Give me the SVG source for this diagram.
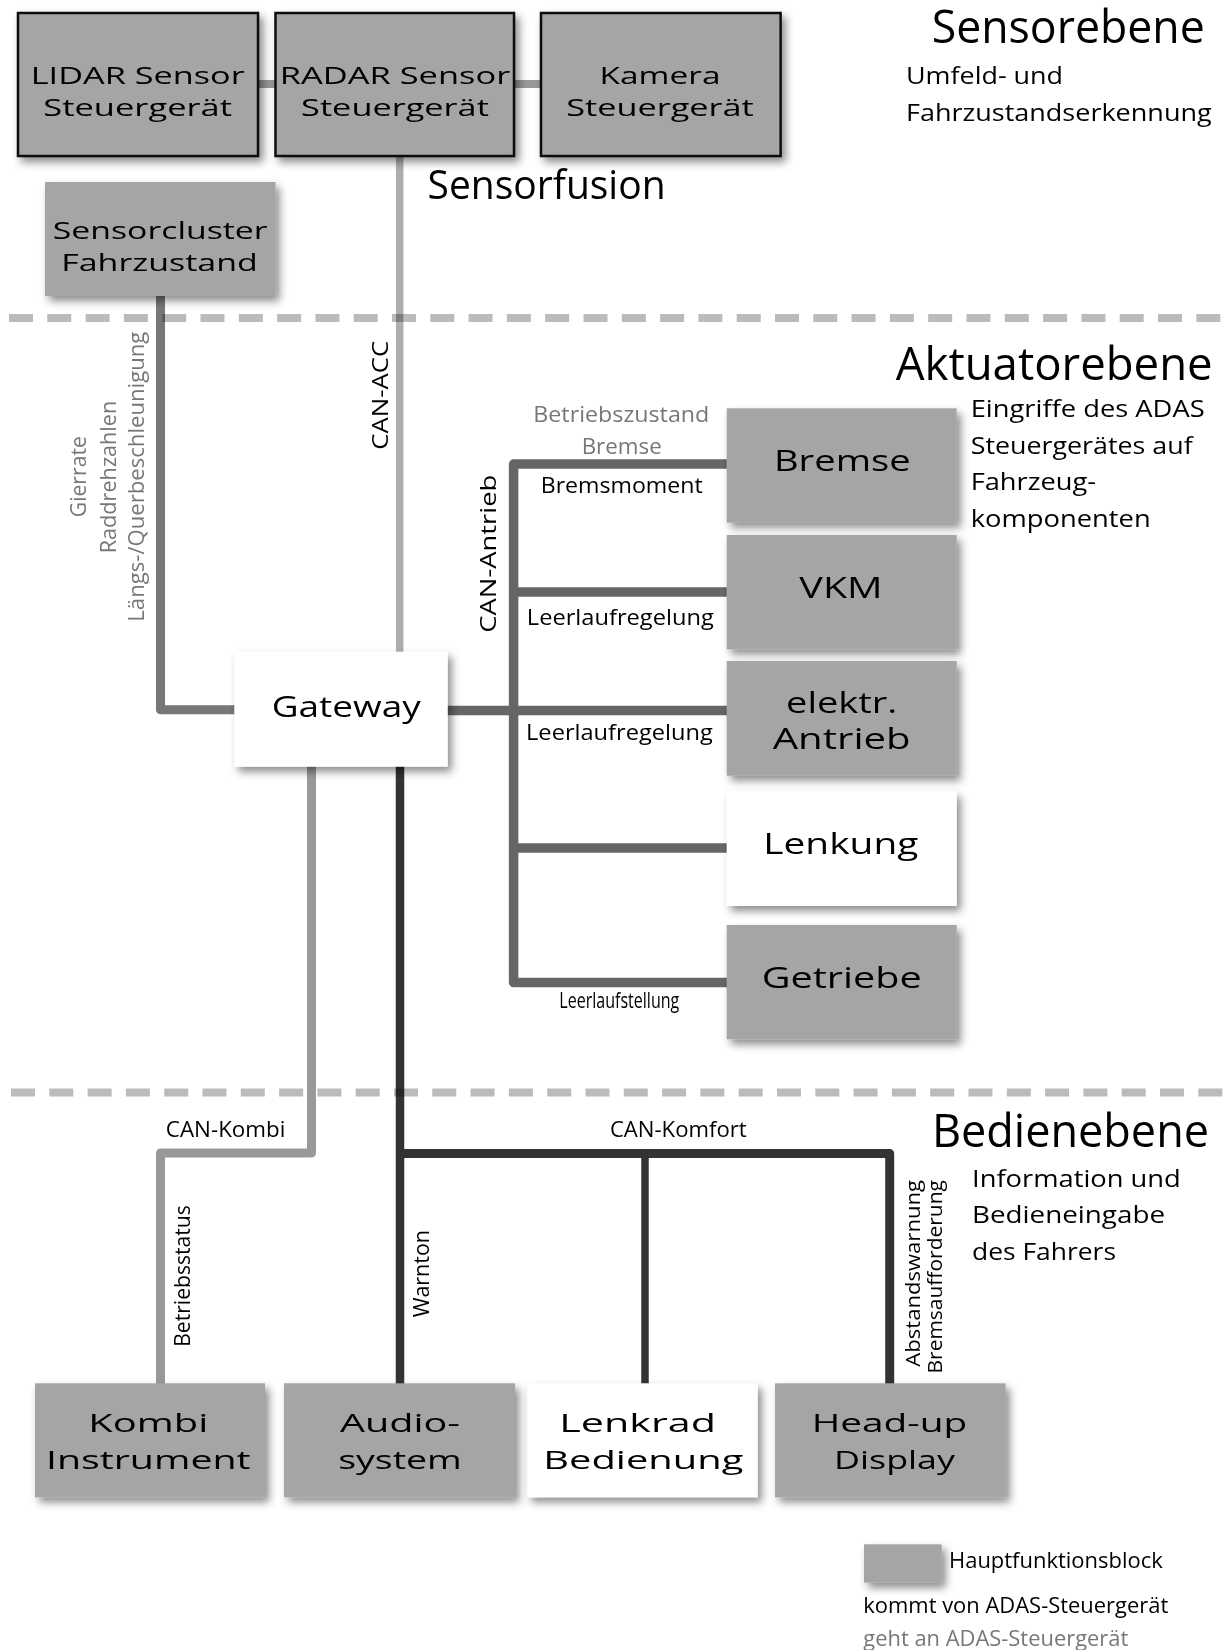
<svg xmlns="http://www.w3.org/2000/svg" width="1223" height="1650" viewBox="0 0 1223 1650">
  <defs>
    <filter id="shadow" x="-10%" y="-10%" width="130%" height="140%">
      <feDropShadow dx="4" dy="5" stdDeviation="4" flood-color="#000" flood-opacity="0.45"/>
    </filter>
    <style>
      text { font-family: "Open Sans", "Noto Sans", "Liberation Sans", sans-serif; fill: #000; }
      .box { fill: #a5a5a5; filter: url(#shadow); }
      .boxw { fill: #ffffff; filter: url(#shadow); }
      .framed { stroke: #111; stroke-width: 2.5; }
      .lbl-top { font-size: 23px; text-anchor: middle; }
      .lbl-mid { font-size: 29px; text-anchor: middle; }
      .lbl-bot { font-size: 26px; text-anchor: middle; }
      .head { font-size: 46px; }
      .sub { font-size: 24px; }
      .sig { font-size: 22px; text-anchor: middle; }
      .gray { fill: #777; }
      .bus { fill: none; stroke-linejoin: round; }
      .sep { stroke: #bbbbbb; stroke-width: 8; stroke-dasharray: 24 14.3; mix-blend-mode: multiply; }
    </style>
  </defs>

  <rect width="1223" height="1650" fill="#ffffff"/>

  <!-- bus lines -->
  <g id="connectors">
    <!-- sensor ring -->
    <line x1="258" y1="84" x2="276" y2="84" stroke="#999" stroke-width="8"/>
    <line x1="514" y1="84" x2="541" y2="84" stroke="#999" stroke-width="8"/>
    <!-- CAN-ACC -->
    <line x1="399.7" y1="156" x2="399.7" y2="652" stroke="#adadad" stroke-width="7.5"/>
    <!-- vehicle state sensors to gateway -->
    <path class="bus" d="M160.5 296 V709.7 H235" stroke="#777" stroke-width="9"/>
    <!-- CAN-Antrieb -->
    <path class="bus" d="M727 464 H513.6 V982.6 H727" stroke="#666" stroke-width="9.5"/>
    <line x1="513.6" y1="592" x2="727" y2="592" stroke="#666" stroke-width="9.5"/>
    <line x1="447" y1="710.5" x2="727" y2="710.5" stroke="#666" stroke-width="9.5"/>
    <line x1="513.6" y1="848" x2="727" y2="848" stroke="#666" stroke-width="9.5"/>
    <!-- CAN-Kombi -->
    <path class="bus" d="M311.5 766 V1153 H160.5 V1384" stroke="#999" stroke-width="9"/>
    <!-- CAN-Komfort -->
    <line x1="400" y1="766" x2="400" y2="1384" stroke="#333" stroke-width="8.5"/>
    <path class="bus" d="M400 1153.5 H889.7 V1384" stroke="#333" stroke-width="9"/>
    <line x1="645" y1="1153.5" x2="645" y2="1384" stroke="#333" stroke-width="7.5"/>
  </g>

  <!-- level separators -->
  <g id="separators">
    <line class="sep" x1="9" y1="318" x2="1223" y2="318"/>
    <line class="sep" x1="11" y1="1092.5" x2="1223" y2="1092.5"/>
  </g>

  <!-- level headings -->
  <g id="levels">
    <text class="head" x="931.7" y="43.3" textLength="273" lengthAdjust="spacingAndGlyphs">Sensorebene</text>
    <text class="sub" x="906" y="84" textLength="157" lengthAdjust="spacingAndGlyphs">Umfeld- und</text>
    <text class="sub" x="906" y="120.7" textLength="305.7" lengthAdjust="spacingAndGlyphs">Fahrzustandserkennung</text>
    <text x="427.6" y="199.3" font-size="41" textLength="238" lengthAdjust="spacingAndGlyphs">Sensorfusion</text>

    <text class="head" x="895.7" y="380" textLength="317" lengthAdjust="spacingAndGlyphs">Aktuatorebene</text>
    <text class="sub" x="970.7" y="417.3" textLength="234" lengthAdjust="spacingAndGlyphs">Eingriffe des ADAS</text>
    <text class="sub" x="970.7" y="453.5" textLength="222" lengthAdjust="spacingAndGlyphs">Steuergerätes auf</text>
    <text class="sub" x="970.7" y="490" textLength="125.3" lengthAdjust="spacingAndGlyphs">Fahrzeug-</text>
    <text class="sub" x="970.7" y="526.7" textLength="180" lengthAdjust="spacingAndGlyphs">komponenten</text>

    <text class="head" x="932" y="1146.7" textLength="277" lengthAdjust="spacingAndGlyphs">Bedienebene</text>
    <text class="sub" x="972" y="1186.7" textLength="208.8" lengthAdjust="spacingAndGlyphs">Information und</text>
    <text class="sub" x="972" y="1223.3" textLength="193" lengthAdjust="spacingAndGlyphs">Bedieneingabe</text>
    <text class="sub" x="972" y="1260" textLength="144" lengthAdjust="spacingAndGlyphs">des Fahrers</text>
  </g>

  <!-- signal labels -->
  <g id="signals">
    <text class="sig gray" transform="rotate(-90 86.5 476.7)" x="86.5" y="476.7" font-size="23" textLength="81" lengthAdjust="spacingAndGlyphs">Gierrate</text>
    <text class="sig gray" transform="rotate(-90 116 477)" x="116" y="477" font-size="23" textLength="152.6" lengthAdjust="spacingAndGlyphs">Raddrehzahlen</text>
    <text class="sig gray" transform="rotate(-90 144.5 476.7)" x="144.5" y="476.7" font-size="23" textLength="290" lengthAdjust="spacingAndGlyphs">Längs-/Querbeschleunigung</text>
    <text class="sig" transform="rotate(-90 388 395.3)" x="388" y="395.3" font-size="28" textLength="109" lengthAdjust="spacingAndGlyphs">CAN-ACC</text>
    <text class="sig" transform="rotate(-90 496.5 553.7)" x="496.5" y="553.7" font-size="30" textLength="158" lengthAdjust="spacingAndGlyphs">CAN-Antrieb</text>

    <text class="sig gray" x="621.3" y="421.5" textLength="176" lengthAdjust="spacingAndGlyphs">Betriebszustand</text>
    <text class="sig gray" x="621.7" y="453.8" textLength="80" lengthAdjust="spacingAndGlyphs">Bremse</text>
    <text class="sig" x="621.7" y="492.8" textLength="162" lengthAdjust="spacingAndGlyphs">Bremsmoment</text>
    <text class="sig" x="620.3" y="624.6" textLength="187" lengthAdjust="spacingAndGlyphs">Leerlaufregelung</text>
    <text class="sig" x="619.4" y="739.9" textLength="186.7" lengthAdjust="spacingAndGlyphs">Leerlaufregelung</text>
    <text class="sig" x="619.3" y="1008" font-size="16" textLength="120" lengthAdjust="spacingAndGlyphs">Leerlaufstellung</text>

    <text class="sig" x="225.6" y="1136.7" font-size="21" textLength="119.6" lengthAdjust="spacingAndGlyphs">CAN-Kombi</text>
    <text class="sig" x="678.3" y="1136.7" font-size="21" textLength="136.8" lengthAdjust="spacingAndGlyphs">CAN-Komfort</text>
    <text class="sig" transform="rotate(-90 190 1276)" x="190" y="1276" font-size="22" textLength="141.7" lengthAdjust="spacingAndGlyphs">Betriebsstatus</text>
    <text class="sig" transform="rotate(-90 429 1273.7)" x="429" y="1273.7" font-size="22" textLength="87.3" lengthAdjust="spacingAndGlyphs">Warnton</text>
    <text transform="rotate(-90 920 1180)" x="920" y="1180" font-size="20" text-anchor="end" textLength="186.7" lengthAdjust="spacingAndGlyphs">Abstandswarnung</text>
    <text transform="rotate(-90 941.5 1180)" x="941.5" y="1180" font-size="20" text-anchor="end" textLength="193.5" lengthAdjust="spacingAndGlyphs">Bremsaufforderung</text>
  </g>

  <!-- sensor level -->
  <g id="lidar">
    <rect class="box framed" x="18" y="13" width="240" height="143"/>
    <text class="lbl-top" x="137.7" y="83.5" textLength="214" lengthAdjust="spacingAndGlyphs">LIDAR Sensor</text>
    <text class="lbl-top" x="137.7" y="116" textLength="188.7" lengthAdjust="spacingAndGlyphs">Steuergerät</text>
  </g>
  <g id="radar">
    <rect class="box framed" x="275.5" y="13" width="238.5" height="143"/>
    <text class="lbl-top" x="395" y="83.5" textLength="230.6" lengthAdjust="spacingAndGlyphs">RADAR Sensor</text>
    <text class="lbl-top" x="395" y="116" textLength="187.8" lengthAdjust="spacingAndGlyphs">Steuergerät</text>
  </g>
  <g id="kamera">
    <rect class="box framed" x="541" y="13" width="239.6" height="143"/>
    <text class="lbl-top" x="660" y="83.5" textLength="121" lengthAdjust="spacingAndGlyphs">Kamera</text>
    <text class="lbl-top" x="660" y="116" textLength="187.7" lengthAdjust="spacingAndGlyphs">Steuergerät</text>
  </g>
  <g id="sensorcluster">
    <rect class="box" x="45" y="182" width="230.5" height="114"/>
    <text class="lbl-top" x="160.2" y="239.3" textLength="215" lengthAdjust="spacingAndGlyphs">Sensorcluster</text>
    <text class="lbl-top" x="159.5" y="270.7" textLength="196.5" lengthAdjust="spacingAndGlyphs">Fahrzustand</text>
  </g>

  <!-- gateway -->
  <g id="gateway">
    <rect class="boxw" x="234.3" y="651.7" width="213.4" height="115"/>
    <text class="lbl-mid" x="346.2" y="717" textLength="149" lengthAdjust="spacingAndGlyphs">Gateway</text>
  </g>

  <!-- actuator level -->
  <g id="bremse">
    <rect class="box" x="726.7" y="408.3" width="230" height="114.4"/>
    <text class="lbl-mid" x="842.3" y="470.7" textLength="136.7" lengthAdjust="spacingAndGlyphs">Bremse</text>
  </g>
  <g id="vkm">
    <rect class="box" x="726.7" y="535" width="230" height="114.3"/>
    <text class="lbl-mid" x="841" y="598.3" textLength="83.3" lengthAdjust="spacingAndGlyphs">VKM</text>
  </g>
  <g id="elektr-antrieb">
    <rect class="box" x="726.7" y="661" width="230" height="114.7"/>
    <text class="lbl-mid" x="841.7" y="713.3" textLength="111.3" lengthAdjust="spacingAndGlyphs">elektr.</text>
    <text class="lbl-mid" x="841.7" y="749.3" textLength="138" lengthAdjust="spacingAndGlyphs">Antrieb</text>
  </g>
  <g id="lenkung">
    <rect class="boxw" x="726.7" y="791.7" width="230" height="114.3"/>
    <text class="lbl-mid" x="840.8" y="854.3" textLength="155" lengthAdjust="spacingAndGlyphs">Lenkung</text>
  </g>
  <g id="getriebe">
    <rect class="box" x="726.7" y="925" width="230" height="114.3"/>
    <text class="lbl-mid" x="841.7" y="988.3" textLength="160" lengthAdjust="spacingAndGlyphs">Getriebe</text>
  </g>

  <!-- operator level -->
  <g id="kombi">
    <rect class="box" x="35" y="1383.3" width="230" height="114"/>
    <text class="lbl-bot" x="148.3" y="1432" textLength="120" lengthAdjust="spacingAndGlyphs">Kombi</text>
    <text class="lbl-bot" x="148.3" y="1469.3" textLength="204.7" lengthAdjust="spacingAndGlyphs">Instrument</text>
  </g>
  <g id="audio">
    <rect class="box" x="284" y="1383.3" width="231" height="114"/>
    <text class="lbl-bot" x="400" y="1432" textLength="120" lengthAdjust="spacingAndGlyphs">Audio-</text>
    <text class="lbl-bot" x="400" y="1469.3" textLength="123.7" lengthAdjust="spacingAndGlyphs">system</text>
  </g>
  <g id="lenkrad">
    <rect class="boxw" x="527.3" y="1383.3" width="230.4" height="114"/>
    <text class="lbl-bot" x="637.7" y="1432" textLength="156.7" lengthAdjust="spacingAndGlyphs">Lenkrad</text>
    <text class="lbl-bot" x="643.3" y="1469.3" textLength="200" lengthAdjust="spacingAndGlyphs">Bedienung</text>
  </g>
  <g id="headup">
    <rect class="box" x="775" y="1383.3" width="230.7" height="114"/>
    <text class="lbl-bot" x="889.5" y="1432" textLength="155.6" lengthAdjust="spacingAndGlyphs">Head-up</text>
    <text class="lbl-bot" x="894.5" y="1469.3" textLength="121" lengthAdjust="spacingAndGlyphs">Display</text>
  </g>

  <!-- legend -->
  <g id="legend">
    <rect class="box" x="864" y="1544.3" width="77.7" height="38.4"/>
    <text x="949" y="1568.3" font-size="21" textLength="213.7" lengthAdjust="spacingAndGlyphs">Hauptfunktionsblock</text>
    <text x="863.3" y="1613.3" font-size="22" textLength="305" lengthAdjust="spacingAndGlyphs">kommt von ADAS-Steuergerät</text>
    <text class="gray" x="863.3" y="1646" font-size="22" textLength="265" lengthAdjust="spacingAndGlyphs">geht an ADAS-Steuergerät</text>
  </g>
</svg>
